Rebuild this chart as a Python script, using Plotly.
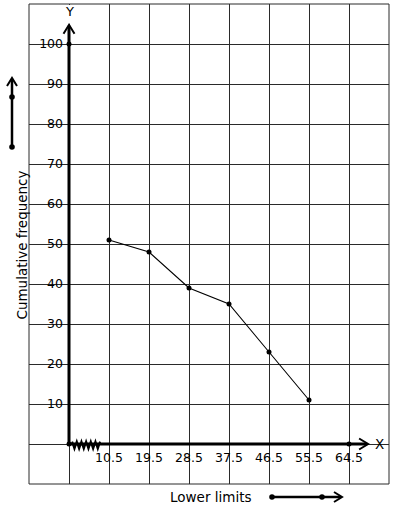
import plotly.graph_objects as go

# ---- data ----
lower_limits = [10.5, 19.5, 28.5, 37.5, 46.5, 55.5]
cum_freq = [51, 48, 39, 35, 23, 11]

x_tick_vals = [10.5, 19.5, 28.5, 37.5, 46.5, 55.5, 64.5]
x_tick_text = ["10.5", "19.5", "28.5", "37.5", "46.5", "55.5", "64.5"]
y_tick_vals = [10, 20, 30, 40, 50, 60, 70, 80, 90, 100]
y_tick_text = ["10", "20", "30", "40", "50", "60", "70", "80", "90", "100"]

axis_dot_x = [1.5, 1.5, 64.5]
axis_dot_y = [0, 100, 0]

x_origin = 1.5
x_range = [-7.5, 73.5]
y_range = [-10, 110]
x_arrow_tip = 68.8
y_arrow_tip = 104.8

FONT = "DejaVu Sans"
GRID = "#2a2a2a"

# plot area size in px (for converting pixel offsets)
PW, PH = 360, 480
XPX = (x_range[1] - x_range[0]) / PW
YPX = (y_range[1] - y_range[0]) / PH

fig = go.Figure()

fig.add_trace(go.Scatter(
    x=lower_limits, y=cum_freq, mode="lines+markers",
    line=dict(color="black", width=1.1),
    marker=dict(color="black", size=5),
    showlegend=False, cliponaxis=False, hoverinfo="skip",
))
fig.add_trace(go.Scatter(
    x=axis_dot_x, y=axis_dot_y, mode="markers",
    marker=dict(color="black", size=5),
    showlegend=False, cliponaxis=False, hoverinfo="skip",
))

# zigzag (broken axis symbol) near the origin
zz_x0, zz_x1, n_teeth = 2.2, 8.5, 6
pts = []
step = (zz_x1 - zz_x0) / (2 * n_teeth)
for i in range(2 * n_teeth + 1):
    pts.append((zz_x0 + i * step, 0.6 if i % 2 == 0 else -1.2))
path = "M " + " L ".join(f"{px},{py}" for px, py in pts)
fig.add_shape(type="path", path=path, xref="x", yref="y",
              line=dict(color="black", width=2))

# white strip hiding the grid line above the Y arrow
fig.add_shape(type="rect", xref="x", yref="y",
              x0=x_origin - 1.5 * XPX, x1=x_origin + 1.5 * XPX,
              y0=y_arrow_tip + 1 * YPX, y1=y_range[1] - 1 * YPX,
              fillcolor="white", line=dict(width=0))

# outer border
fig.add_shape(type="rect", xref="paper", yref="paper", x0=0, x1=1, y0=0, y1=1,
              line=dict(color=GRID, width=1))


def chevron(tx, ty, direction, ux, uy, ref, back=9, half=5.5, width=2):
    """open chevron arrowhead; ux, uy = units per pixel"""
    if direction == "up":
        p1 = (tx - half * ux, ty - back * uy)
        p2 = (tx + half * ux, ty - back * uy)
    else:  # right
        p1 = (tx - back * ux, ty + half * uy)
        p2 = (tx - back * ux, ty - half * uy)
    d = f"M {p1[0]},{p1[1]} L {tx},{ty} L {p2[0]},{p2[1]}"
    fig.add_shape(type="path", path=d, xref=ref[0], yref=ref[1],
                  line=dict(color="black", width=width))


# thick axes
fig.add_shape(type="line", xref="x", yref="y", x0=x_origin, y0=0, x1=x_origin,
              y1=y_arrow_tip - 1 * YPX, line=dict(color="black", width=3))
fig.add_shape(type="line", xref="x", yref="y", x0=x_origin, y0=0,
              x1=x_arrow_tip - 1 * XPX, y1=0, line=dict(color="black", width=3))
chevron(x_origin, y_arrow_tip, "up", XPX, YPX, ("x", "y"))
chevron(x_arrow_tip, 0, "right", XPX, YPX, ("x", "y"))

# axis letters
fig.add_annotation(x=x_origin, y=108.2, xref="x", yref="y", text="Y", showarrow=False,
                   yanchor="middle", font=dict(family=FONT, size=13, color="black"))
fig.add_annotation(x=69.9, y=0, xref="x", yref="y", text="X", showarrow=False,
                   xanchor="left", yanchor="middle",
                   font=dict(family=FONT, size=13.5, color="black"))

# axis titles
fig.add_annotation(x=-0.047, y=0.497, xref="paper", yref="paper",
                   text="Cumulative frequency", textangle=-90, showarrow=False,
                   font=dict(family=FONT, size=13.5, color="black"))
fig.add_annotation(x=0.503, y=-0.027, xref="paper", yref="paper",
                   text="Lower limits", showarrow=False, yanchor="middle",
                   font=dict(family=FONT, size=13.5, color="black"))

# side arrows (paper coordinates)
PX, PY = 1 / PW, 1 / PH
lx, ly_tip, ly_tail = -17 * PX, (484 - 78) * PY, (484 - 147) * PY
fig.add_shape(type="line", xref="paper", yref="paper", x0=lx, y0=ly_tail, x1=lx,
              y1=ly_tip - 1 * PY, line=dict(color="black", width=2.5))
chevron(lx, ly_tip, "up", PX, PY, ("paper", "paper"), back=8, half=5)
by, bx_tail, bx_tip = -13 * PY, (272 - 29) * PX, (342 - 29) * PX
fig.add_shape(type="line", xref="paper", yref="paper", x0=bx_tail, y0=by,
              x1=bx_tip - 1 * PX, y1=by, line=dict(color="black", width=2.5))
chevron(bx_tip, by, "right", PX, PY, ("paper", "paper"), back=8, half=5)

for sx, sy in [(lx, (484 - 97) * PY), (lx, ly_tail), (bx_tail, by), ((322 - 29) * PX, by)]:
    fig.add_shape(type="circle", xref="paper", yref="paper",
                  x0=-2.8, y0=-2.8, x1=2.8, y1=2.8,
                  xsizemode="pixel", ysizemode="pixel", xanchor=sx, yanchor=sy,
                  fillcolor="black", line=dict(color="black", width=0))

fig.update_layout(
    width=394, height=510,
    margin=dict(l=29, r=5, t=4, b=26),
    paper_bgcolor="white", plot_bgcolor="white",
    font=dict(family=FONT, size=12, color="black"),
    showlegend=False, hovermode=False,
    xaxis=dict(
        range=x_range, anchor="free", position=1/12,
        tickvals=x_tick_vals, ticktext=x_tick_text, ticks="",
        showgrid=True, gridcolor=GRID, gridwidth=1,
        minor=dict(tick0=-7.5, dtick=9, showgrid=True, gridcolor=GRID, gridwidth=1),
        zeroline=False, showline=False, ticklabelstandoff=4,
        tickfont=dict(family=FONT, size=12.5, color="black"),
    ),
    yaxis=dict(
        range=y_range, anchor="free", position=1/9,
        tickvals=y_tick_vals, ticktext=y_tick_text, ticks="",
        showgrid=True, gridcolor=GRID, gridwidth=1,
        minor=dict(tick0=-10, dtick=10, showgrid=True, gridcolor=GRID, gridwidth=1),
        zeroline=False, showline=False, ticklabelstandoff=6,
        tickfont=dict(family=FONT, size=12.5, color="black"),
    ),
)

fig.write_html("out.html", config={"displayModeBar": False},
               post_script="document.body.style.margin='0';document.body.style.overflow='hidden';")
